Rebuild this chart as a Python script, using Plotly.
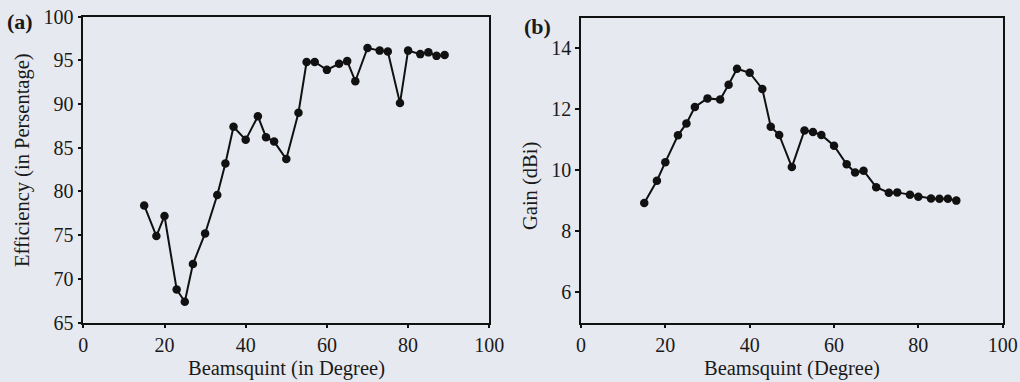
import plotly.graph_objects as go
from plotly.subplots import make_subplots

beamsquint = [15, 18, 20, 23, 25, 27, 30, 33, 35, 37, 40, 43, 45, 47, 50, 53,
              55, 57, 60, 63, 65, 67, 70, 73, 75, 78, 80, 83, 85, 87, 89]
efficiency = [78.4, 74.9, 77.2, 68.8, 67.4, 71.7, 75.2, 79.6, 83.2, 87.4, 85.9,
              88.6, 86.2, 85.7, 83.7, 89.0, 94.8, 94.8, 93.9, 94.6, 94.9, 92.6,
              96.4, 96.1, 96.0, 90.1, 96.1, 95.7, 95.9, 95.5, 95.6]
gain = [8.92, 9.65, 10.26, 11.14, 11.53, 12.07, 12.35, 12.31, 12.8, 13.32, 13.19,
        12.66, 11.42, 11.15, 10.1, 11.3, 11.25, 11.15, 10.8, 10.19, 9.92, 9.98,
        9.44, 9.26, 9.27, 9.19, 9.13, 9.07, 9.06, 9.06, 9.0]

x_ticks = [0, 20, 40, 60, 80, 100]
eff_ticks = [65, 70, 75, 80, 85, 90, 95, 100]
gain_ticks = [6, 8, 10, 12, 14]

BG = "#e7e9f0"
FONT = "Liberation Serif"
TXT = "#1a1a1a"

fig = make_subplots(rows=1, cols=2)
mk = dict(color="#111111", size=8.5)
ln = dict(color="#111111", width=2)
fig.add_trace(go.Scatter(x=beamsquint, y=efficiency, mode="lines+markers",
                         marker=mk, line=ln, showlegend=False), row=1, col=1)
fig.add_trace(go.Scatter(x=beamsquint, y=gain, mode="lines+markers",
                         marker=mk, line=ln, showlegend=False), row=1, col=2)

ax_common = dict(showline=True, mirror=True, linecolor="#111111", linewidth=1.5,
                 ticks="outside", ticklen=4, tickwidth=1.5, tickcolor="#111111",
                 showgrid=False, zeroline=False, automargin=False,
                 tickfont=dict(family=FONT, size=20, color=TXT))

fig.update_layout(
    width=1020, height=382,
    margin=dict(l=0, r=0, t=0, b=0, autoexpand=False),
    paper_bgcolor=BG, plot_bgcolor=BG,
    font=dict(family=FONT, size=20, color=TXT),
    xaxis=dict(domain=[83.3/1020, 489.3/1020], range=[0, 100], tickvals=x_ticks, **ax_common),
    xaxis2=dict(domain=[581/1020, 1002.7/1020], range=[0, 100], tickvals=x_ticks, **ax_common),
    yaxis=dict(domain=[1-322.7/382, 1-16.5/382], range=[65, 100], tickvals=eff_ticks, **ax_common),
    yaxis2=dict(domain=[1-322.7/382, 1-17.5/382], range=[5, 15], tickvals=gain_ticks, **ax_common),
)

tf = dict(family=FONT, size=20.5, color=TXT)
ann = [
    dict(text="Beamsquint (in Degree)", x=(83.3+489.3)/2/1020, y=1-368/382, xref="paper", yref="paper",
         showarrow=False, font=tf, xanchor="center", yanchor="middle"),
    dict(text="Beamsquint (Degree)", x=(581+1002.7)/2/1020, y=1-368/382, xref="paper", yref="paper",
         showarrow=False, font=tf, xanchor="center", yanchor="middle"),
    dict(text="Efficiency (in Persentage)", x=22/1020, y=1-160/382, xref="paper", yref="paper", textangle=-90,
         showarrow=False, font=tf, xanchor="center", yanchor="middle"),
    dict(text="Gain (dBi)", x=530/1020, y=1-186/382, xref="paper", yref="paper", textangle=-90,
         showarrow=False, font=tf, xanchor="center", yanchor="middle"),
    dict(text="<b>(a)</b>", x=20/1020, y=1-21/382, xref="paper", yref="paper",
         showarrow=False, font=dict(family=FONT, size=22, color=TXT), xanchor="center", yanchor="middle"),
    dict(text="<b>(b)</b>", x=537/1020, y=1-26/382, xref="paper", yref="paper",
         showarrow=False, font=dict(family=FONT, size=22, color=TXT), xanchor="center", yanchor="middle"),
]
fig.update_layout(annotations=ann)

fig.write_html("out.html", config={"displayModeBar": False},
               post_script="document.body.style.margin='0px';document.body.style.overflow='hidden';")
